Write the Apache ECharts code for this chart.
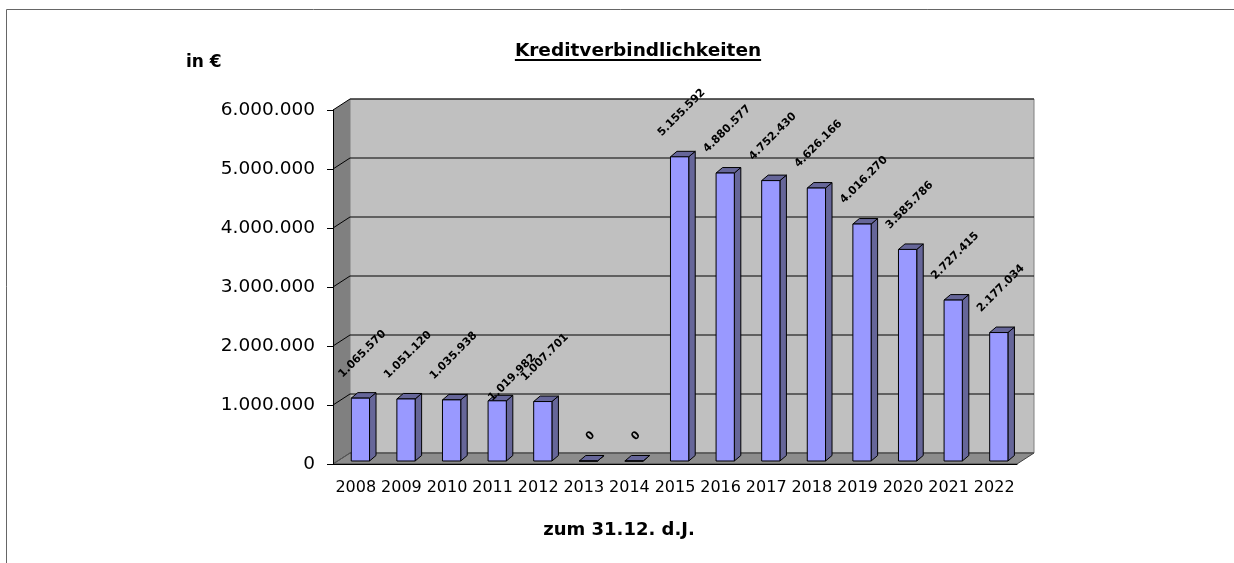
<!DOCTYPE html>
<html>
<head>
<meta charset="utf-8">
<script src="https://cdn.jsdelivr.net/npm/echarts@6.0.0/dist/echarts.min.js"></script>
<style>
  html, body { margin: 0; padding: 0; background: #fff; }
  #chart { width: 1234px; height: 563px; }
</style>
</head>
<body>
<div id="chart"></div>
<script>
// Kreditverbindlichkeiten zum 31.12. d.J.
var years = ['2008', '2009', '2010', '2011', '2012', '2013', '2014', '2015',
  '2016', '2017', '2018', '2019', '2020', '2021', '2022'];
var amounts = [1065570, 1051120, 1035938, 1019982, 1007701, 0, 0, 5155592,
  4880577, 4752430, 4626166, 4016270, 3585786, 2727415, 2177034];
var yTicks = [0, 1000000, 2000000, 3000000, 4000000, 5000000, 6000000];

// 3D look
var WALL_DX = 17, WALL_DY = -11;    // depth of the whole box
var FRONT_DX = 4.6, FRONT_DY = -3;  // bars stand a bit behind the front edge
var BAR_DX = 6.5, BAR_DY = -5.5;    // bar depth
var LABEL_FONT = 'bold 11px "DejaVu Sans"';
// the 2011 label sits lower in the original (moved by hand)
var labelShift = { 3: [13, 21] };

function fmt(v) {
  return String(v).replace(/\B(?=(\d{3})+(?!\d))/g, '.');
}

var ctx = document.createElement('canvas').getContext('2d');
function textWidth(t, font) {
  ctx.font = font;
  return ctx.measureText(t).width;
}

function renderWalls(params, api) {
  var cs = params.coordSys;
  var x = cs.x, y = cs.y, w = cs.width, h = cs.height;
  var kids = [];
  // back wall
  kids.push({
    type: 'rect',
    shape: { x: x + WALL_DX, y: y + WALL_DY, width: w, height: h },
    style: { fill: '#c0c0c0', stroke: '#808080', lineWidth: 1 }
  });
  // side wall
  kids.push({
    type: 'polygon',
    shape: { points: [[x, y], [x + WALL_DX, y + WALL_DY], [x + WALL_DX, y + h + WALL_DY], [x, y + h]] },
    style: { fill: '#808080', stroke: null }
  });
  // floor
  kids.push({
    type: 'polygon',
    shape: { points: [[x, y + h], [x + WALL_DX, y + h + WALL_DY], [x + w + WALL_DX, y + h + WALL_DY], [x + w, y + h]] },
    style: { fill: '#8c8c8c', stroke: '#404040', lineWidth: 1 }
  });
  // gridlines on side and back wall
  yTicks.forEach(function (t) {
    var py = api.coord([0, t])[1];
    kids.push({
      type: 'polyline',
      shape: { points: [[x, py], [x + WALL_DX, py + WALL_DY], [x + w + WALL_DX, py + WALL_DY]] },
      style: { stroke: t === 0 ? '#555' : '#000', lineWidth: 1, fill: null }
    });
  });
  return { type: 'group', children: kids };
}

function renderBar(params, api) {
  var i = api.value(0), v = api.value(1);
  var band = api.size([1, 0])[0];
  var base = api.coord([i, 0]);
  var top = api.coord([i, v]);
  var bw = band * 0.4;
  var x0 = base[0] - bw / 2 + FRONT_DX;
  var x1 = x0 + bw;
  var yb = base[1] + FRONT_DY;
  var yt = top[1] + FRONT_DY;
  var dark = '#666699';
  var text = fmt(v);
  var tw = textWidth(text, LABEL_FONT);
  var d = 18 + (tw + 12) / (2 * Math.SQRT2);
  var sh = labelShift[i] || [0, 0];
  return {
    type: 'group',
    children: [
      {
        type: 'polygon',
        shape: { points: [[x1, yb], [x1 + BAR_DX, yb + BAR_DY], [x1 + BAR_DX, yt + BAR_DY], [x1, yt]] },
        style: { fill: dark, stroke: '#000', lineWidth: 1 }
      },
      {
        type: 'polygon',
        shape: { points: [[x0, yt], [x0 + BAR_DX, yt + BAR_DY], [x1 + BAR_DX, yt + BAR_DY], [x1, yt]] },
        style: { fill: dark, stroke: '#000', lineWidth: 1 }
      },
      {
        type: 'rect',
        shape: { x: x0, y: yt, width: bw, height: yb - yt },
        style: { fill: '#9999ff', stroke: '#000', lineWidth: 1 }
      },
      {
        type: 'text',
        x: (x0 + x1) / 2 + 2 + sh[0],
        y: yt - d + sh[1],
        rotation: Math.PI / 4,
        style: {
          text: text,
          font: LABEL_FONT,
          fill: '#000',
          align: 'center',
          verticalAlign: 'middle'
        }
      }
    ]
  };
}

var chart = echarts.init(document.getElementById('chart'), null, { renderer: 'canvas' });

var titleText = 'Kreditverbindlichkeiten';
var titleFont = 'bold 18.5px "DejaVu Sans"';
var titleW = textWidth(titleText, titleFont);

var option = {
  animation: false,
  backgroundColor: '#fff',
  grid: { left: 333, top: 110, width: 684, height: 354 },
  xAxis: {
    type: 'category',
    data: years,
    axisLine: { lineStyle: { color: '#000', width: 1 } },
    axisTick: { length: 6, lineStyle: { color: '#000' } },
    axisLabel: { color: '#000', fontSize: 16, fontFamily: 'DejaVu Sans', margin: 16, interval: 0 },
    splitLine: { show: false }
  },
  yAxis: {
    type: 'value',
    min: 0,
    max: 6000000,
    interval: 1000000,
    axisLine: { show: true, lineStyle: { color: '#000', width: 1 } },
    axisTick: { show: true, length: 6, lineStyle: { color: '#000' } },
    axisLabel: { color: '#000', fontSize: 18.5, fontFamily: 'DejaVu Sans', margin: 18, formatter: fmt },
    splitLine: { show: false }
  },
  graphic: [
    { type: 'line', shape: { x1: 6.5, y1: 9.5, x2: 1234, y2: 9.5 }, style: { stroke: '#666', lineWidth: 1 } },
    { type: 'line', shape: { x1: 6.5, y1: 9.5, x2: 6.5, y2: 563 }, style: { stroke: '#666', lineWidth: 1 } },
    {
      type: 'text', x: 638, y: 51,
      style: { text: titleText, font: titleFont, fill: '#000', align: 'center', verticalAlign: 'middle' }
    },
    {
      type: 'rect', shape: { x: 638 - titleW / 2, y: 59, width: titleW, height: 2 },
      style: { fill: '#000' }
    },
    {
      type: 'text', x: 186, y: 63,
      style: { text: 'in €', font: 'bold 17px "DejaVu Sans"', fill: '#000', align: 'left', verticalAlign: 'middle' }
    },
    {
      type: 'text', x: 619, y: 530,
      style: { text: 'zum 31.12. d.J.', font: 'bold 18px "DejaVu Sans"', fill: '#000', align: 'center', verticalAlign: 'middle' }
    }
  ],
  series: [
    {
      type: 'custom',
      name: 'walls',
      silent: true,
      z: 0,
      clip: false,
      renderItem: renderWalls,
      data: [[0, 0]]
    },
    {
      type: 'custom',
      name: 'Kreditverbindlichkeiten',
      z: 2,
      clip: false,
      renderItem: renderBar,
      encode: { x: 0, y: 1 },
      data: amounts.map(function (v, i) { return [i, v]; })
    }
  ]
};

chart.setOption(option);
</script>
</body>
</html>
